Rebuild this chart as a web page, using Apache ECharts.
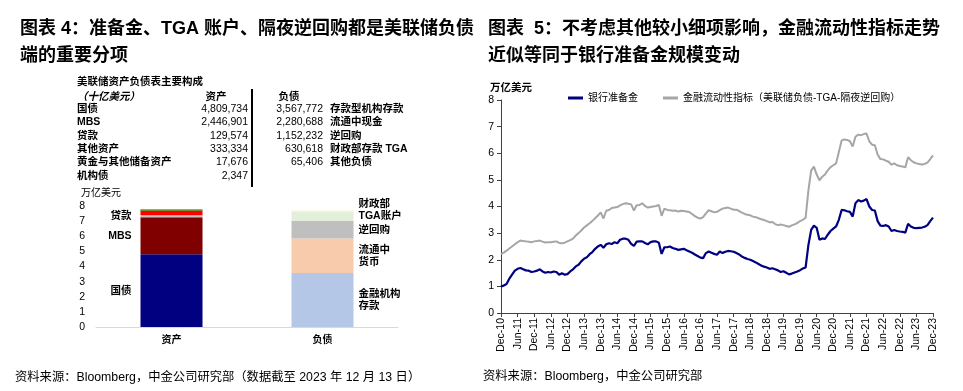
<!DOCTYPE html>
<html><head><meta charset="utf-8">
<script src="https://cdn.jsdelivr.net/npm/echarts@6/dist/echarts.min.js"></script>
<style>html,body{margin:0;padding:0;background:#fff}#c{width:963px;height:391px}</style>
</head><body><div id="c"></div>
<script>
const FONT = '"Liberation Sans", Arial, "Noto Sans CJK SC", sans-serif';

// ---- Left panel: table + stacked bars ----
const tableTitle = '美联储资产负债表主要构成';
const tableUnit = '（十亿美元）';
const assetNames = ['国债', 'MBS', '贷款', '其他资产', '黄金与其他储备资产', '机构债'];
const assetValues = [4809734, 2446901, 129574, 333334, 17676, 2347];
const liabNames = ['存款型机构存款', '流通中现金', '逆回购', '财政部存款 TGA', '其他负债'];
const liabValues = [3567772, 2280688, 1152232, 630618, 65406];
const barCategories = ['资产', '负债'];
const assetBarLabels = ['国债', 'MBS', '贷款', '', '', ''];
const liabBarLabels = ['金融机构\n存款', '流通中\n货币', '逆回购', '财政部\nTGA账户', ''];
const assetColors = ['#000080', '#800000', '#C0C0C0', '#FF0000', '#4EA72E', '#4EA72E'];
const liabColors = ['#B4C7E7', '#F8CBAD', '#BFBFBF', '#E2EFDA', '#FFF2CC'];
const barTicks = [0, 8, 1];

// ---- Right panel: line chart (monthly, Dec-10 .. Dec-23) ----
const monthNames = ['Jan','Feb','Mar','Apr','May','Jun','Jul','Aug','Sep','Oct','Nov','Dec'];
const months = [];
for (let i = 0; i <= 156; i++) {
  const mi = (11 + i) % 12, yy = 10 + Math.floor((11 + i) / 12);
  months.push(monthNames[mi] + '-' + String(yy).padStart(2, '0'));
}
const reserves = [
  1.00,1.03,1.09,1.29,1.44,1.59,1.66,1.69,1.64,1.60,
  1.59,1.54,1.56,1.59,1.64,1.56,1.51,1.54,1.52,1.56,
  1.54,1.44,1.49,1.44,1.46,1.56,1.64,1.75,1.81,1.94,
  2.04,2.09,2.21,2.29,2.41,2.50,2.56,2.45,2.58,2.62,
  2.59,2.66,2.62,2.75,2.79,2.79,2.75,2.60,2.52,2.68,
  2.69,2.69,2.63,2.58,2.66,2.69,2.69,2.64,2.22,2.47,
  2.47,2.50,2.44,2.41,2.37,2.39,2.41,2.36,2.31,2.26,
  2.20,2.14,2.08,2.06,2.25,2.31,2.26,2.22,2.19,2.31,
  2.25,2.30,2.33,2.32,2.30,2.25,2.20,2.12,2.07,2.03,
  2.00,1.95,1.90,1.84,1.78,1.74,1.71,1.66,1.68,1.64,
  1.60,1.54,1.57,1.51,1.45,1.48,1.52,1.56,1.61,1.67,
  1.71,2.55,3.12,3.28,3.20,2.75,2.80,2.78,2.94,3.08,
  3.17,3.25,3.50,3.87,3.86,3.82,3.80,3.62,4.12,4.24,
  4.19,4.22,4.28,4.00,3.87,3.85,3.45,3.28,3.27,3.30,
  3.25,3.08,3.12,3.08,3.06,3.05,3.02,3.35,3.25,3.20,
  3.19,3.20,3.21,3.24,3.30,3.45,3.58
];
const liquidity = [
  2.21,2.27,2.34,2.42,2.50,2.58,2.66,2.72,2.70,2.69,
  2.68,2.66,2.69,2.70,2.72,2.68,2.65,2.66,2.66,2.68,
  2.69,2.63,2.62,2.64,2.69,2.74,2.79,2.91,3.00,3.10,
  3.21,3.29,3.37,3.46,3.56,3.66,3.78,3.55,3.84,3.87,
  3.94,3.96,3.98,4.04,4.09,4.12,4.10,4.08,3.85,4.05,
  4.06,4.12,4.02,3.96,3.98,4.00,4.02,4.06,3.65,3.92,
  3.87,3.86,3.84,3.85,3.81,3.84,3.83,3.81,3.79,3.72,
  3.64,3.58,3.55,3.60,3.74,3.86,3.82,3.78,3.80,3.86,
  3.92,3.94,3.96,3.92,3.88,3.88,3.83,3.77,3.72,3.69,
  3.67,3.62,3.60,3.56,3.52,3.49,3.45,3.41,3.42,3.34,
  3.30,3.32,3.30,3.27,3.24,3.29,3.33,3.38,3.45,3.50,
  3.58,4.60,5.35,5.50,5.20,4.98,5.12,5.20,5.36,5.48,
  5.55,5.62,6.05,6.48,6.52,6.50,6.45,6.25,6.62,6.70,
  6.68,6.72,6.74,6.45,6.32,6.30,5.95,5.78,5.77,5.72,
  5.68,5.57,5.62,5.55,5.52,5.50,5.47,5.85,5.74,5.66,
  5.62,5.60,5.58,5.60,5.65,5.78,5.92
];
const lineNames = ['银行准备金', '金融流动性指标（美联储负债-TGA-隔夜逆回购）'];
const lineColors = ['#000080', '#A6A6A6'];
const lineTicks = [0, 8, 1];

const title4 = '图表 4：准备金、TGA 账户、隔夜逆回购都是美联储负债\n端的重要分项';
const title5 = '图表  5：不考虑其他较小细项影响，金融流动性指标走势\n近似等同于银行准备金规模变动';
const source4 = '资料来源：Bloomberg，中金公司研究部（数据截至 2023 年 12 月 13 日）';
const source5 = '资料来源：Bloomberg，中金公司研究部';
const unitLabel = '万亿美元';

// ---- build ----
const g = [];
function txt(x, y, text, font, align) {
  align = align || 'left';
  g.push({ type: 'text', x: x, y: y, silent: true, z: 10,
    style: { text: text, fill: '#000', font: font, textAlign: align, align: align,
             textVerticalAlign: 'middle', verticalAlign: 'middle' } });
}
const fmt = v => v.toLocaleString('en-US');
const fB = 'bold 10.5px ' + FONT;
const fN = '10.5px ' + FONT;
txt(77, 82, tableTitle, fB);
txt(77, 97, tableUnit, 'italic bold 10.5px ' + FONT);
txt(216, 97, barCategories[0], fB, 'center');
txt(289, 97, barCategories[1], fB, 'center');
assetNames.forEach((n, i) => {
  const y = 109 + i * 13.4;
  txt(77, y, n, fB);
  txt(248, y, fmt(assetValues[i]), fN, 'right');
});
liabNames.forEach((n, i) => {
  const y = 109 + i * 13.4;
  txt(323, y, fmt(liabValues[i]), fN, 'right');
  txt(330, y, n, fB);
});
g.push({ type: 'line', silent: true, shape: { x1: 252, y1: 89, x2: 252, y2: 187 },
  style: { stroke: '#000', lineWidth: 2 } });
txt(81, 193, unitLabel, '10px ' + FONT);
txt(490, 88, unitLabel, 'bold 10.5px ' + FONT);
txt(15, 378, source4, '12.3px ' + FONT);
txt(483, 377, source5, '12.3px ' + FONT);

const series = [];
assetNames.forEach((n, i) => {
  series.push({
    type: 'bar', name: n, stack: 'bs', xAxisIndex: 0, yAxisIndex: 0, barWidth: 62,
    data: [assetValues[i] / 1e6, '-'],
    itemStyle: { color: assetColors[i], borderColor: assetColors[i], borderWidth: i >= 4 ? 0.6 : 0 },
    label: { show: assetBarLabels[i] !== '', position: 'left', distance: 9,
      formatter: assetBarLabels[i], color: '#000', fontSize: 10.5, fontFamily: FONT, fontWeight: 'bold' }
  });
});
liabNames.forEach((n, i) => {
  series.push({
    type: 'bar', name: n, stack: 'bs', xAxisIndex: 0, yAxisIndex: 0, barWidth: 62,
    data: ['-', liabValues[i] / 1e6],
    itemStyle: { color: liabColors[i] },
    label: { show: liabBarLabels[i] !== '', position: 'right', distance: 5,
      offset: i === 3 ? [0, -6] : [0, 0],
      formatter: liabBarLabels[i], color: '#000', fontSize: 10.5, lineHeight: 12,
      fontFamily: FONT, fontWeight: 'bold', align: 'left' }
  });
});
series.push({ type: 'line', name: lineNames[1], xAxisIndex: 1, yAxisIndex: 1, data: liquidity,
  showSymbol: false, lineStyle: { color: lineColors[1], width: 2 }, itemStyle: { color: lineColors[1] } });
series.push({ type: 'line', name: lineNames[0], xAxisIndex: 1, yAxisIndex: 1, data: reserves,
  showSymbol: false, lineStyle: { color: lineColors[0], width: 2.2 }, itemStyle: { color: lineColors[0] } });

const chart = echarts.init(document.getElementById('c'));
chart.setOption({
  animation: false,
  backgroundColor: '#fff',
  textStyle: { fontFamily: FONT },
  title: [
    { text: title4, left: 15, top: 11, textStyle: { fontSize: 18, fontWeight: 'bold', lineHeight: 27, color: '#000', fontFamily: FONT } },
    { text: title5, left: 483, top: 11, textStyle: { fontSize: 18, fontWeight: 'bold', lineHeight: 27, color: '#000', fontFamily: FONT } }
  ],
  legend: {
    data: lineNames, left: 563, top: 88, itemWidth: 15, itemHeight: 3, itemGap: 25, icon: 'rect',
    textStyle: { fontSize: 10, color: '#000', fontFamily: FONT }
  },
  grid: [
    { left: 96, top: 206, width: 302, height: 121 },
    { left: 501, top: 100, width: 432, height: 213 }
  ],
  xAxis: [
    { type: 'category', gridIndex: 0, data: barCategories,
      axisLine: { lineStyle: { color: '#D9D9D9', width: 1 } }, axisTick: { show: false },
      axisLabel: { color: '#000', fontSize: 10, margin: 8, fontWeight: 'bold' } },
    { type: 'category', gridIndex: 1, data: months, boundaryGap: false,
      axisLine: { lineStyle: { color: '#404040', width: 1 } },
      axisTick: { interval: 5, length: 4, lineStyle: { color: '#404040' } },
      axisLabel: { interval: 5, rotate: 90, color: '#000', fontSize: 10.5, margin: 5 } }
  ],
  yAxis: [
    { type: 'value', gridIndex: 0, min: barTicks[0], max: barTicks[1], interval: barTicks[2],
      axisLine: { show: false }, axisTick: { show: false }, splitLine: { show: false },
      axisLabel: { color: '#000', fontSize: 10.5, margin: 11 } },
    { type: 'value', gridIndex: 1, min: lineTicks[0], max: lineTicks[1], interval: lineTicks[2],
      axisLine: { show: true, lineStyle: { color: '#404040', width: 1 } },
      axisTick: { show: true, length: 4, lineStyle: { color: '#404040' } }, splitLine: { show: false },
      axisLabel: { color: '#000', fontSize: 10.5, margin: 7 } }
  ],
  graphic: g,
  series: series
});
</script>
</body></html>
